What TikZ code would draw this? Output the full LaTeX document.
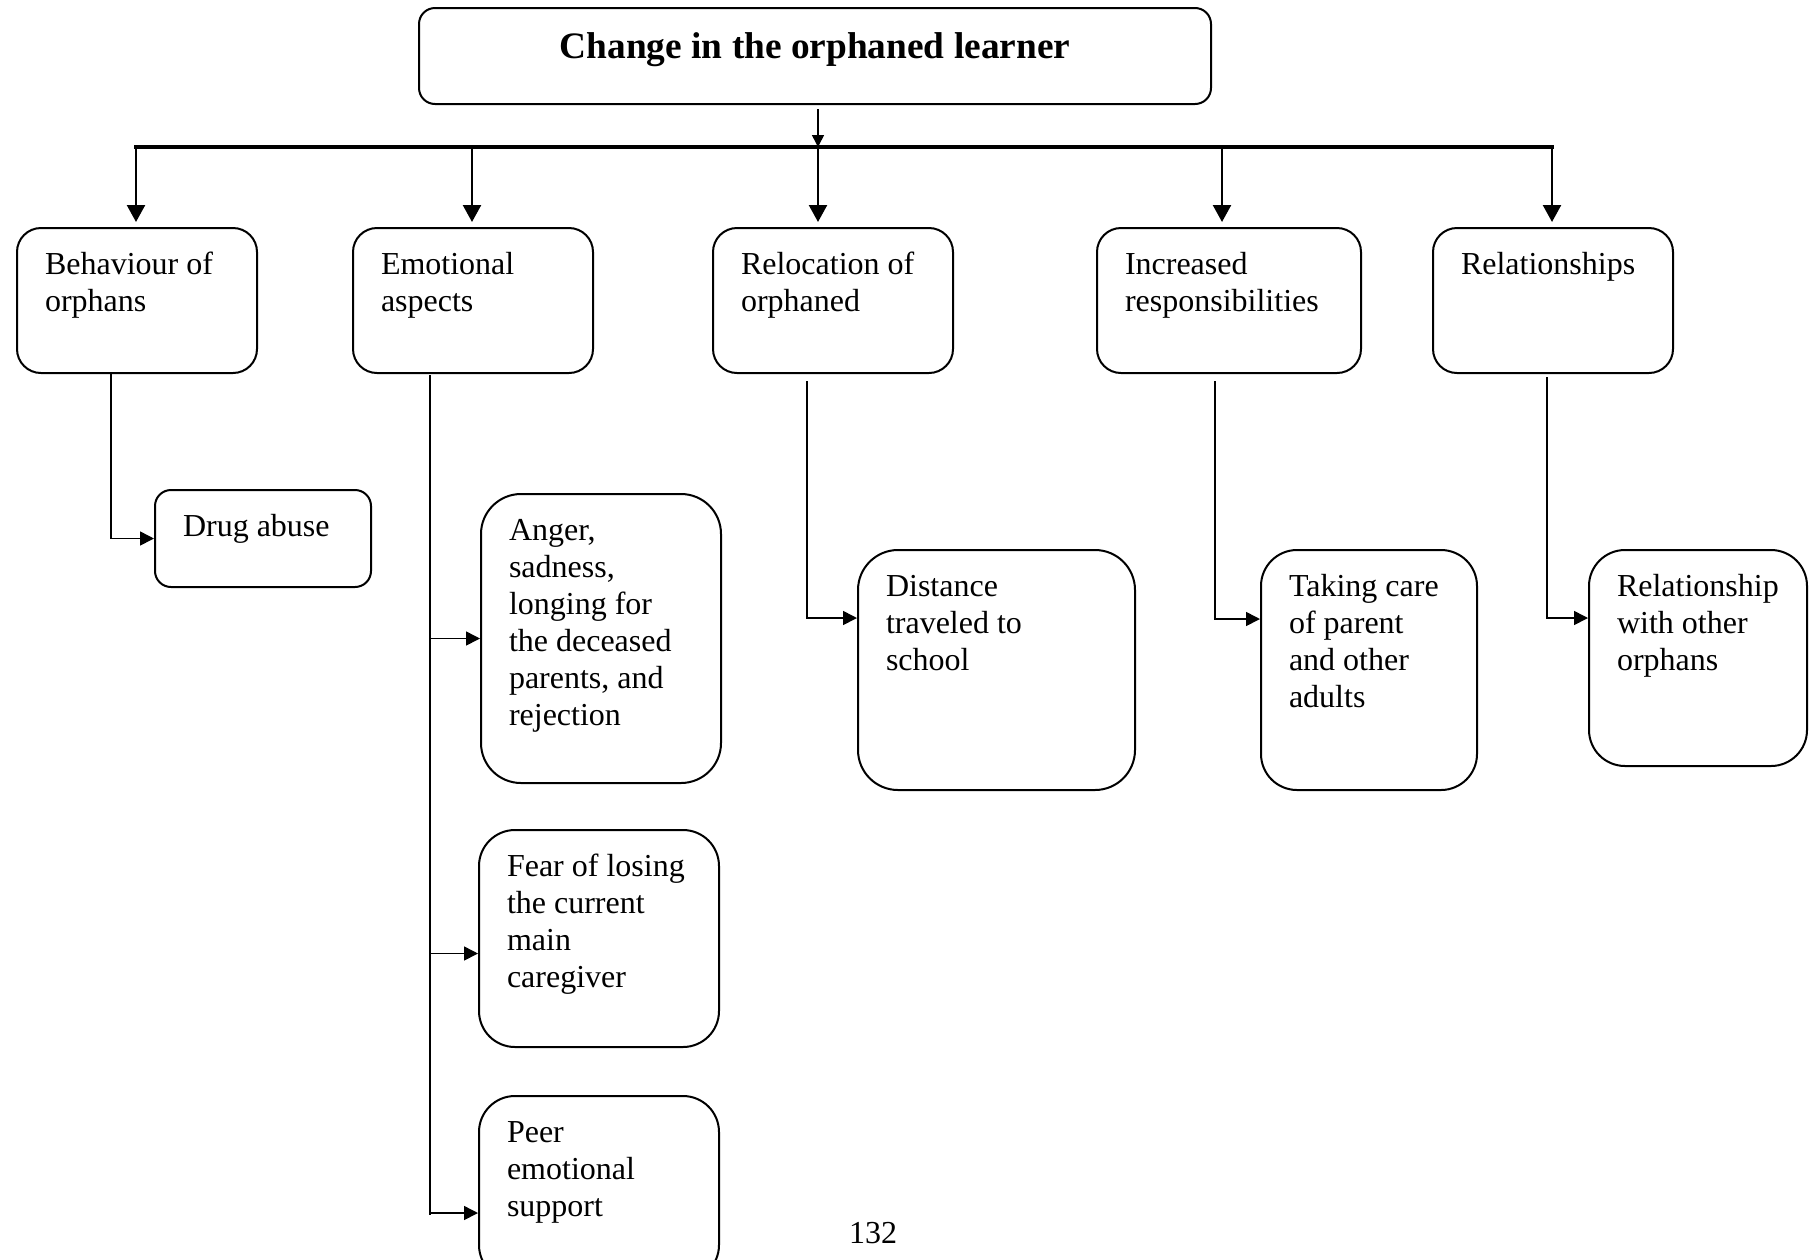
\documentclass[tikz,border=0pt]{standalone}
\usepackage{fontspec}
\setmainfont{Liberation Serif}
\usetikzlibrary{arrows.meta}

\begin{document}
\begin{tikzpicture}[
    x=0.5pt, y=-0.5pt,
    head/.style={draw, line width=1pt, rounded corners=8pt, anchor=north west,
        inner xsep=10pt, inner ysep=10pt,
        font=\fontsize{18.67pt}{21.5pt}\selectfont\bfseries},
    cell/.style n args={3}{draw, line width=1pt, rounded corners=#3,
        anchor=north west, inner xsep=14pt, inner ysep=10.5pt,
        font=\fontsize{16pt}{18.5pt}\selectfont,
        execute at begin node={\begin{minipage}[t][\dimexpr#2-21pt\relax][t]{\dimexpr#1-28pt\relax}\raggedright\strut},
        execute at end node={\end{minipage}}},
    link/.style={line width=0.8pt},
    >={Triangle[length=7pt, width=7pt]}
]

\useasboundingbox (0,0) rectangle (1809,1259);

% Title
\node[head] (title) at (418,7) {\begin{minipage}[t][28pt][t]{376pt}\centering\strut Change in the orphaned learner\end{minipage}};

% Main branches
\node[cell={120pt}{72.5pt}{12pt}] (behav) at (16,227) {Behaviour of\\ orphans};
\node[cell={120pt}{72.5pt}{12pt}] (emot) at (352,227) {Emotional\\ aspects};
\node[cell={120pt}{72.5pt}{12pt}] (reloc) at (712,227) {Relocation of\\ orphaned};
\node[cell={132pt}{72.5pt}{12pt}] (resp) at (1096,227) {Increased\\ responsibilities};
\node[cell={120pt}{72.5pt}{12pt}] (relat) at (1432,227) {Relationships};

% Sub items
\node[cell={108pt}{48.5pt}{8pt}] (drug) at (154,489) {Drug abuse};
\node[cell={120pt}{144.5pt}{20pt}] (anger) at (480,493) {Anger,\\ sadness,\\ longing for\\ the deceased\\ parents, and\\ rejection};
\node[cell={120pt}{108.5pt}{18pt}] (fear) at (478,829) {Fear of losing\\ the current\\ main\\ caregiver};
\node[cell={120pt}{92.5pt}{18pt}] (peer) at (478,1095) {Peer\\ emotional\\ support};
\node[cell={138.5pt}{120pt}{20pt}] (dist) at (857,549) {Distance\\ traveled to\\ school};
\node[cell={108pt}{120pt}{18pt}] (care) at (1260,549) {Taking care\\ of parent\\ and other\\ adults};
\node[cell={109pt}{108pt}{18pt}] (orph) at (1588,549) {Relationship\\ with other\\ orphans};

% Page number
\node[font=\fontsize{16pt}{18.5pt}\selectfont, anchor=base] (pnum) at (873,1243) {132};

% Bar
\coordinate (b1) at (136,147);
\coordinate (b2) at (472,147);
\coordinate (b3) at (818,147);
\coordinate (b4) at (1222,147);
\coordinate (b5) at (1552,147);
\draw[line width=2pt, line cap=rect] (b1) -- (b5);
\draw[->, link, >={Triangle[length=6pt, width=6pt]}, shorten <=2pt] (title.south -| b3) -- (b3);

\foreach \b/\n in {b1/behav, b2/emot, b3/reloc, b4/resp, b5/relat}
    \draw[->, line width=1.2pt, >={Triangle[length=8.5pt, width=9pt]}, shorten >=2.5pt] (\b) -- (\b |- \n.north);

% Behaviour
\draw[->, link] ([xshift=-13pt]behav.south) |- (drug.west);

% Emotional
\coordinate (e1) at (430,375);
\coordinate (e2) at (430,1215);
\coordinate (fa) at ([yshift=-7.5pt]fear.west);
\coordinate (pa) at ([yshift=-59pt]peer.north west);
\draw[link] (e1) -- (e2);
\draw[->, link] (e1 |- anger.west) -- (anger.west);
\draw[->, link] (e1 |- fa) -- (fa);
\draw[->, link] (e1 |- pa) -- (pa);

% Relocation, responsibilities, relationships
\coordinate (r1) at ([xshift=-13pt, yshift=-3.5pt]reloc.south);
\coordinate (da) at ([yshift=26pt]dist.west);
\draw[->, link] (r1) |- (da);
\coordinate (r2) at ([xshift=-7pt, yshift=-3.5pt]resp.south);
\coordinate (ca) at ([yshift=25.5pt]care.west);
\draw[->, link] (r2) |- (ca);
\coordinate (r3) at ([xshift=-3pt, yshift=-1.5pt]relat.south);
\coordinate (oa) at ([yshift=20pt]orph.west);
\draw[->, link] (r3) |- (oa);

\end{tikzpicture}
\end{document}
